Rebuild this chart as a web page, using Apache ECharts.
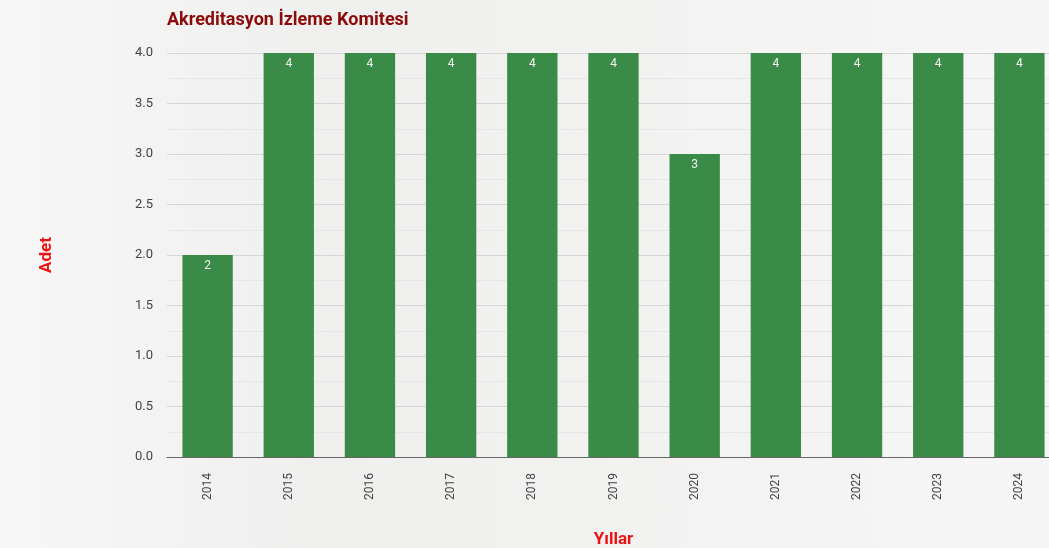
<!DOCTYPE html>
<html><head><meta charset="utf-8">
<script src="https://cdn.jsdelivr.net/npm/echarts@6/dist/echarts.min.js"></script>
<style>html,body{margin:0;padding:0;overflow:hidden;background:#f1f1f0;}
#c{width:1060px;height:548px;background:linear-gradient(90deg,#f7f7f7 0%,#efefee 30%,#f2f2f1 60%,#f6f6f6 100%);}</style>
</head><body><div id="c"></div>
<script>
const years = ['2014','2015','2016','2017','2018','2019','2020','2021','2022','2023','2024'];
const counts = [2,4,4,4,4,4,3,4,4,4,4];
const titleText = 'Akreditasyon İzleme Komitesi';
const yName = 'Adet';
const xName = 'Yıllar';
const chart = echarts.init(document.getElementById('c'), null, {renderer:'canvas'});
chart.setOption({
  animation:false,
  title:{text:titleText,left:162,top:6,textStyle:{fontFamily:'Roboto',fontWeight:'bold',fontSize:18,color:'#8b0a0a'}},
  grid:{left:167,right:0,top:53,bottom:91,containLabel:false,outerBoundsMode:'none'},
  xAxis:{type:'category',data:years,name:xName,nameLocation:'middle',nameGap:74,
    nameTextStyle:{color:'#ee1111',fontFamily:'Roboto',fontWeight:'bold',fontSize:17},
    axisLine:{lineStyle:{color:'#666'}},axisTick:{show:false},
    axisLabel:{rotate:90,color:'#444',fontFamily:'Roboto',fontSize:12,margin:16}},
  yAxis:{type:'value',min:0,max:4,interval:0.5,name:yName,nameLocation:'middle',nameGap:112,
    nameTextStyle:{color:'#ee1111',fontFamily:'Roboto',fontWeight:'bold',fontSize:17},
    axisLabel:{formatter:v=>v.toFixed(1),color:'#444',fontFamily:'Roboto',fontSize:13,margin:14},
    splitLine:{lineStyle:{color:'#d6d6d6'}},
    minorTick:{show:false,splitNumber:2},minorSplitLine:{show:true,lineStyle:{color:'#e6e6e6'}}},
  series:[{type:'bar',data:counts,barCategoryGap:'38%',itemStyle:{color:'#3a8b47'},
    label:{show:true,position:'insideTop',distance:5,color:'#f2f2f2',fontFamily:'Roboto',fontSize:12}}]
});
</script></body></html>
